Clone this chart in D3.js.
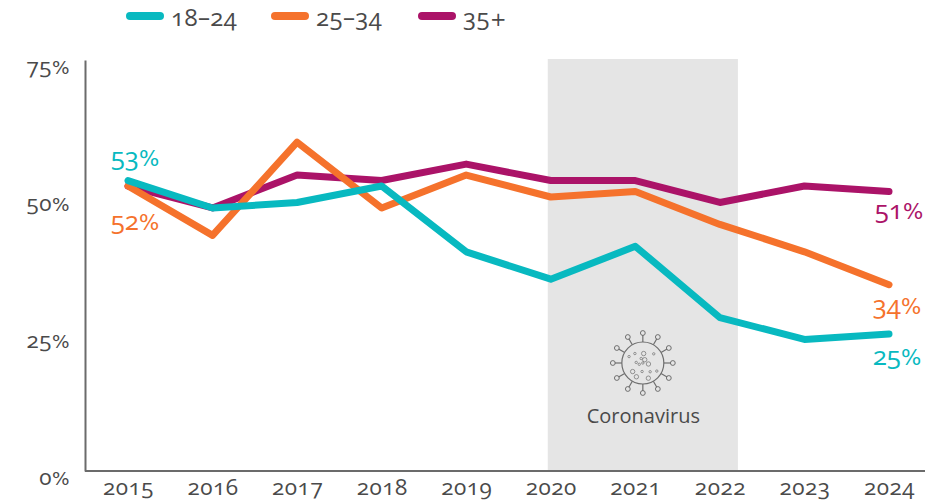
<!DOCTYPE html>
<html>
<head>
<meta charset="utf-8">
<script src="https://cdn.jsdelivr.net/npm/d3@7"></script>
<style>
  html, body { margin: 0; padding: 0; background: #fff; }
  svg { display: block; }
  text { font-family: "Open Sans", sans-serif; fill: #4a4a4a; font-feature-settings: "onum"; }
  /* % and + sit too high next to old style digits, so they get a smaller wider face */
  .sign { font-family: "DejaVu Sans", sans-serif; font-size: 82%; }
  .tick text { font-size: 22.5px; letter-spacing: 0.5px; }
  .domain { stroke: #6b6b6b; stroke-width: 2px; }
</style>
</head>
<body>
<script>
const years = [2015, 2016, 2017, 2018, 2019, 2020, 2021, 2022, 2023, 2024];
const young = [53, 48, 49, 52, 40, 35, 41, 28, 24, 25];
const middle = [52, 43, 60, 48, 54, 50, 51, 45, 40, 34];
const older = [52, 48, 54, 53, 56, 53, 53, 49, 52, 51];
const yTicks = [0, 25, 50, 75];
const shadeYears = [2020, 2022];

const names = ["18–24", "25–34", "35+"];
const colours = ["#08b9c0", "#f5722c", "#ab1368"];

// small specks inside the virus icon, [angle in degrees, share of radius]
const specks = [[10, .3], [50, .6], [95, .45], [140, .7], [185, .35], [230, .65], [275, .5], [320, .75], [0, 0], [70, .85], [160, .2], [250, .25], [300, .2], [205, .8], [30, .85], [115, .8]];

const width = 925, height = 502;
const margin = {top: 60, right: 36, bottom: 31, left: 85};

// writes a label with its trailing % or + in its own tspan
function signText(selection, getText) {
  selection.each(function(d) {
    const label = getText(d);
    const el = d3.select(this).text(label.replace(/[%+]$/, ""));
    if (/[%+]$/.test(label)) {
      el.append("tspan").attr("class", "sign").text(label.slice(-1));
    }
  });
}

const svg = d3.select("body").append("svg")
    .attr("width", width)
    .attr("height", height);

const x = d3.scaleLinear()
    .domain(d3.extent(years))
    .range([128, 889]);

const y = d3.scaleLinear()
    .domain([0, 75])
    .range([height - margin.bottom, margin.top]);

// shaded coronavirus period, slightly wider than the two years
svg.append("rect")
    .attr("x", x(shadeYears[0]) - 3)
    .attr("y", y(75) - 1)
    .attr("width", x(shadeYears[1]) - x(shadeYears[0]) + 21)
    .attr("height", y(0) - y(75) + 1)
    .attr("fill", "#e5e5e5");

// axes
svg.append("g")
    .attr("transform", `translate(${margin.left},0)`)
    .call(d3.axisLeft(y).tickValues(yTicks).tickSize(0).tickPadding(15))
    .call(g => g.selectAll(".tick text")
      .attr("dy", "0.72em")
      .attr("y", -3)
      .call(signText, d => d + "%"));

svg.append("g")
    .attr("transform", `translate(0,${y(0)})`)
    .call(d3.axisBottom(x).tickValues(years).tickFormat(d3.format("d")).tickSize(0).tickPadding(8))
    .call(g => g.select(".domain").attr("d", `M${margin.left},0H${width}`));

// lines
const line = d3.line()
    .x((d, i) => x(years[i]))
    .y(d => y(d));

[older, middle, young].forEach((values, i) => {
  svg.append("path")
      .datum(values)
      .attr("d", line)
      .attr("fill", "none")
      .attr("stroke", colours[2 - i])
      .attr("stroke-width", 7)
      .attr("stroke-linejoin", "round")
      .attr("stroke-linecap", "round");
});

// value labels
const labels = [
  {text: "53%", year: 2015, value: young[0], colour: colours[0], dx: 7, dy: -15},
  {text: "52%", year: 2015, value: middle[0], colour: colours[1], dx: 7, dy: 44},
  {text: "51%", year: 2024, value: older[9], colour: colours[2], dx: 10, dy: 27},
  {text: "34%", year: 2024, value: middle[9], colour: colours[1], dx: 8, dy: 29},
  {text: "25%", year: 2024, value: 25, colour: colours[0], dx: 8, dy: 31}
];

svg.selectAll(".value-label")
    .data(labels)
    .enter()
    .append("text")
      .attr("class", "value-label")
      .attr("x", d => x(d.year) + d.dx)
      .attr("y", d => y(d.value) + d.dy)
      .attr("text-anchor", "middle")
      .style("font-size", "26px")
      .style("font-weight", 500)
      .style("fill", d => d.colour)
      .call(signText, d => d.text);

// legend
const legendX = [128, 273, 420];
const legend = svg.selectAll(".legend")
    .data(names)
    .enter()
    .append("g")
      .attr("class", "legend")
      .attr("transform", (d, i) => `translate(${legendX[i]},16)`);

legend.append("line")
    .attr("x1", 2).attr("x2", 32)
    .attr("stroke", (d, i) => colours[i])
    .attr("stroke-width", 8)
    .attr("stroke-linecap", "round");

legend.append("text")
    .attr("x", 43)
    .attr("y", 10)
    .style("font-size", "24px")
    .style("letter-spacing", "0.4px")
    .call(signText, d => d);

// virus icon
const icon = svg.append("g")
    .attr("transform", `translate(${x(2021) + 7.5},363)`)
    .attr("stroke", "#6e6e6e")
    .attr("fill", "none");

icon.append("circle").attr("r", 21).attr("stroke-width", 1.2);

d3.range(12).forEach(i => {
  const a = i * Math.PI / 6;
  icon.append("line")
      .attr("x1", 21 * Math.cos(a)).attr("y1", 21 * Math.sin(a))
      .attr("x2", 28 * Math.cos(a)).attr("y2", 28 * Math.sin(a))
      .attr("stroke-width", 1.2);
  icon.append("circle")
      .attr("cx", 30 * Math.cos(a)).attr("cy", 30 * Math.sin(a))
      .attr("r", 2.4)
      .attr("stroke-width", 1);
});

icon.selectAll(".speck")
    .data(specks)
    .enter()
    .append("circle")
      .attr("class", "speck")
      .attr("cx", d => 19 * d[1] * Math.cos(d[0] * Math.PI / 180))
      .attr("cy", d => 19 * d[1] * Math.sin(d[0] * Math.PI / 180))
      .attr("r", (d, i) => i % 3 === 0 ? 2.2 : 1.2)
      .attr("stroke-width", .7);

svg.append("text")
    .attr("x", x(2021) + 8)
    .attr("y", 423)
    .attr("text-anchor", "middle")
    .style("font-size", "20px")
    .text("Coronavirus");
</script>
</body>
</html>
